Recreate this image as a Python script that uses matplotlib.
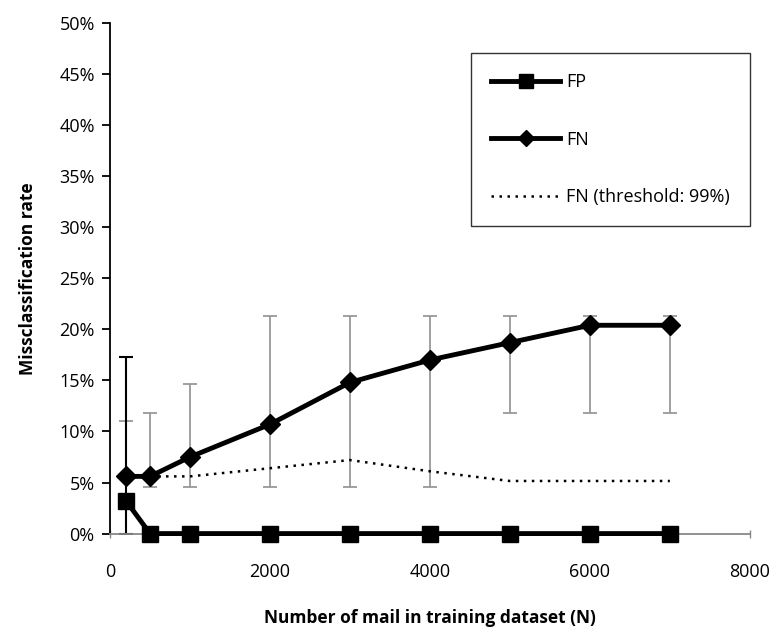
import matplotlib
matplotlib.use("Agg")
import matplotlib.pyplot as plt
from matplotlib.ticker import FuncFormatter

plt.rcParams['font.family'] = ['Open Sans', 'DejaVu Sans']

n_train = [200, 500, 1000, 2000, 3000, 4000, 5000, 6000, 7000]
fp_rate = [3.2, 0, 0, 0, 0, 0, 0, 0, 0]
fn_rate = [5.6, 5.6, 7.5, 10.7, 14.8, 17.0, 18.7, 20.4, 20.4]
fn_low = [0, 4.6, 4.6, 4.6, 4.6, 4.6, 11.8, 11.8, 11.8]
fn_high = [11.0, 11.8, 14.6, 21.3, 21.3, 21.3, 21.3, 21.3, 21.3]
fp_low = [0, 0, 0, 0, 0, 0, 0, 0, 0]
fp_high = [17.3, 0, 0, 0, 0, 0, 0, 0, 0]
fn_thr = [5.6, 5.6, 5.6, 6.4, 7.2, 6.1, 5.15, 5.15, 5.15]

fig = plt.figure(figsize=(7.77, 6.31), dpi=100)
ax = fig.add_axes([0.1416, 0.1544, 0.8234, 0.8091])

# error bars
fn_err = [[r - l for r, l in zip(fn_rate, fn_low)], [h - r for r, h in zip(fn_rate, fn_high)]]
ax.errorbar(n_train, fn_rate, yerr=fn_err, fmt='none', ecolor='#999999', elinewidth=1.3,
            capsize=5, capthick=1.3, zorder=2)
fp_idx = [i for i, h in enumerate(fp_high) if h > 0]
fp_err = [[fp_rate[i] - fp_low[i] for i in fp_idx], [fp_high[i] - fp_rate[i] for i in fp_idx]]
ax.errorbar([n_train[i] for i in fp_idx], [fp_rate[i] for i in fp_idx], yerr=fp_err,
            fmt='none', ecolor='black', elinewidth=1.5, capsize=5, capthick=1.5, zorder=2)

ax.plot(n_train, fn_thr, color='black', linestyle=(0, (1, 2.2)), linewidth=1.8,
        label='FN (threshold: 99%)', zorder=3)
ax.plot(n_train, fp_rate, color='black', linewidth=3.5, marker='s', markersize=12,
        label='FP', zorder=4, clip_on=False)
ax.plot(n_train, fn_rate, color='black', linewidth=3.5, marker='D', markersize=10,
        label='FN', zorder=5)

ax.set_xlim(0, 8000)
ax.set_ylim(0, 50)
ax.set_xticks([0, 2000, 4000, 6000, 8000])
ax.set_yticks(range(0, 55, 5))
ax.yaxis.set_major_formatter(FuncFormatter(lambda v, p: f"{int(v)}%"))

for s in ['top', 'right']:
    ax.spines[s].set_visible(False)
ax.spines['left'].set_color('black')
ax.spines['left'].set_linewidth(1.3)
ax.spines['bottom'].set_color('#888888')
ax.spines['bottom'].set_linewidth(1.3)
ax.tick_params(axis='y', direction='out', length=6, width=1.3, color='black',
               labelsize=13, pad=5)
ax.tick_params(axis='x', direction='inout', length=6, width=1.0, color='#888888',
               labelsize=13, pad=18)

ax.set_xlabel('Number of mail in training dataset (N)', fontsize=12.5, fontweight='bold',
              labelpad=20)
ax.set_ylabel('Misscclassification rate'.replace('cc', 'c'), fontsize=12.5,
              fontweight='bold', labelpad=16)

h, l = ax.get_legend_handles_labels()
order = [1, 2, 0]
leg = ax.legend([h[i] for i in order], [l[i] for i in order], loc='upper right',
                bbox_to_anchor=(1.0, 0.941), borderaxespad=0, fontsize=13, frameon=True,
                fancybox=False, edgecolor='black', handlelength=3.8, labelspacing=2.2,
                borderpad=1.1, handletextpad=0.35, markerscale=0.8)
leg.get_frame().set_linewidth(1.0)

fig.savefig('out.png', dpi=100)
